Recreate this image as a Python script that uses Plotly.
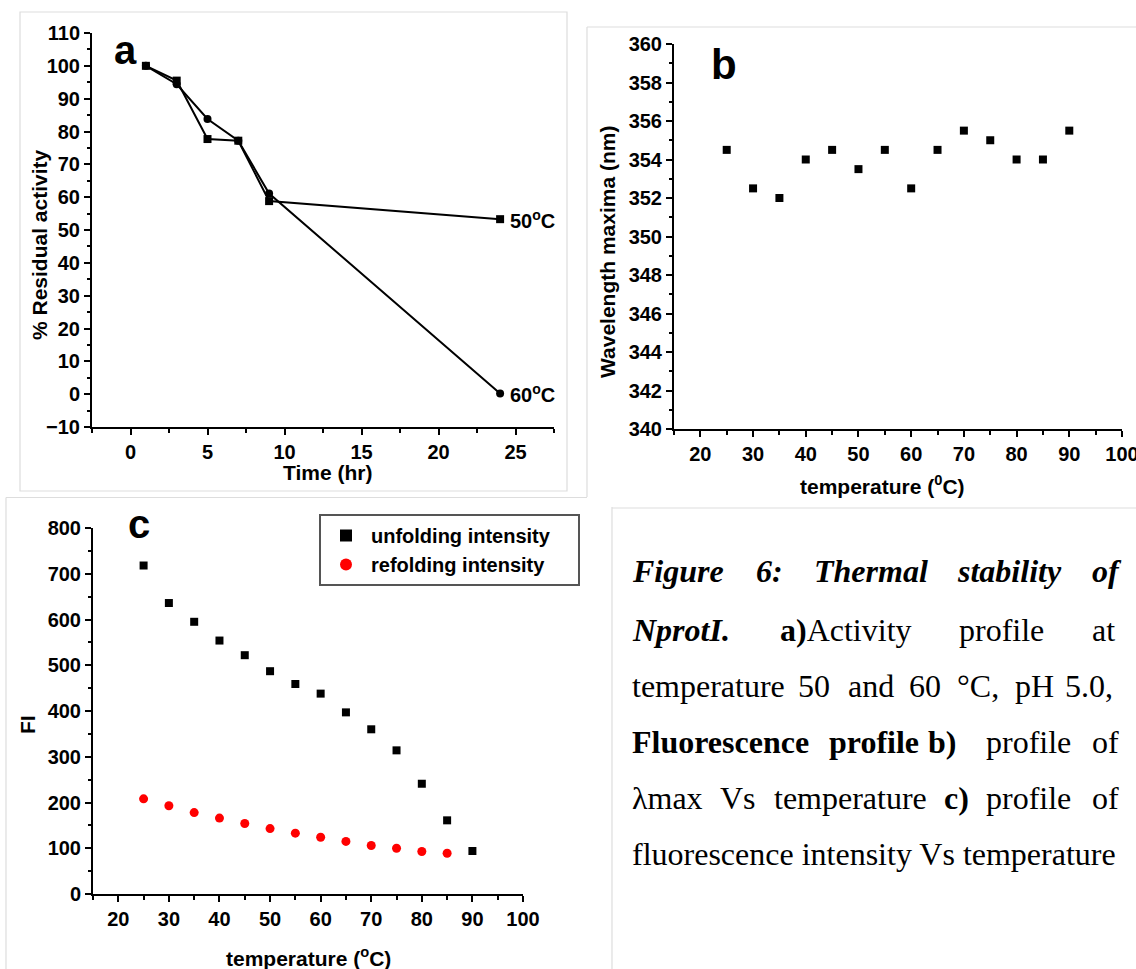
import plotly.graph_objects as go

W, H = 1136, 969

# ---------------- data ----------------
# panel a: residual activity vs time
time_hr = [1, 3, 5, 7, 9, 24]
act_50 = [100, 95.5, 77.7, 77.2, 58.8, 53.3]
act_60 = [100, 94.4, 83.8, 77.2, 61.1, 0.2]

# panel b: wavelength maxima vs temperature
temp_b = [25, 30, 35, 40, 45, 50, 55, 60, 65, 70, 75, 80, 85, 90]
wl_max = [354.5, 352.5, 352.0, 354.0, 354.5, 353.5, 354.5, 352.5, 354.5, 355.5, 355.0, 354.0, 354.0, 355.5]

# panel c: fluorescence intensity vs temperature
temp_unf = [25, 30, 35, 40, 45, 50, 55, 60, 65, 70, 75, 80, 85, 90]
fi_unf = [718, 636, 595, 554, 522, 487, 459, 438, 397, 360, 314, 241, 161, 94]
temp_ref = [25, 30, 35, 40, 45, 50, 55, 60, 65, 70, 75, 80, 85]
fi_ref = [208, 193, 178, 166, 154, 143, 133, 124, 115, 106, 100, 93, 89]

SANS = "Liberation Sans, Arial, sans-serif"
SERIF = "Liberation Serif, Times New Roman, serif"


def px(x):
    return x / W


def py(y):
    return 1 - y / H


fig = go.Figure()

fig.add_trace(go.Scatter(x=time_hr, y=act_50, mode="lines+markers", xaxis="x", yaxis="y",
                         line=dict(color="black", width=2),
                         marker=dict(symbol="square", size=8, color="black"), showlegend=False))
fig.add_trace(go.Scatter(x=time_hr, y=act_60, mode="lines+markers", xaxis="x", yaxis="y",
                         line=dict(color="black", width=2),
                         marker=dict(symbol="circle", size=8, color="black"), showlegend=False))

fig.add_trace(go.Scatter(x=temp_b, y=wl_max, mode="markers", xaxis="x2", yaxis="y2",
                         marker=dict(symbol="square", size=8, color="black"), showlegend=False))

NB = "\u00a0"
fig.add_trace(go.Scatter(x=temp_unf, y=fi_unf, mode="markers", xaxis="x3", yaxis="y3",
                         name="unfolding intensity" + NB * 4,
                         marker=dict(symbol="square", size=8, color="black")))
fig.add_trace(go.Scatter(x=temp_ref, y=fi_ref, mode="markers", xaxis="x3", yaxis="y3",
                         name="refolding intensity",
                         marker=dict(symbol="circle", size=9, color="#ff0000")))

tickfont = dict(family=SANS, size=20, color="black", weight="bold")


def axis(domain, rng, dtick, minor, anchor):
    return dict(domain=domain, range=rng, dtick=dtick, tick0=0, anchor=anchor,
                showline=True, linecolor="black", linewidth=2, showgrid=False, zeroline=False,
                ticks="outside", ticklen=6, tickwidth=2, tickcolor="black",
                minor=dict(dtick=minor, ticks="outside", ticklen=3.5, tickwidth=1.5, tickcolor="black"),
                tickfont=tickfont, fixedrange=True, automargin=False,
                ticklabeloverflow="allow")


layout = dict(
    template="none",
    width=W, height=H, margin=dict(l=0, r=0, t=0, b=0, autoexpand=False),
    paper_bgcolor="white", plot_bgcolor="white",
    xaxis=axis([px(92), px(554)], [-2.5, 27.5], 5, 2.5, "y"),
    yaxis=axis([py(427), py(33)], [-10, 110], 10, 5, "x"),
    xaxis2=axis([px(674), px(1122)], [15, 100], 10, 5, "y2"),
    yaxis2=axis([py(429), py(44)], [340, 360], 2, 1, "x2"),
    xaxis3=axis([px(93), px(523)], [15, 100], 10, 5, "y3"),
    yaxis3=axis([py(894), py(528)], [0, 800], 100, 50, "x3"),
    legend=dict(x=px(319), y=py(514), xanchor="left", yanchor="top",
                bordercolor="#555555", borderwidth=2, bgcolor="white",
                font=dict(family=SANS, size=20, color="black", weight="bold"),
                itemsizing="constant", itemwidth=40),
)
fig.update_layout(**layout)

ann = []


def text(x, y, t, size=21, angle=0, xanchor="center", yanchor="middle", family=SANS, xref="paper", yref="paper", xshift=0):
    ann.append(dict(x=x, y=y, xref=xref, yref=yref, text=t, showarrow=False, textangle=angle,
                    xanchor=xanchor, yanchor=yanchor, xshift=xshift,
                    font=dict(family=family, size=size, color="black")))


# axis titles
text(px(39), py(245), "<b>% Residual activity</b>", angle=-90)
text(px(327), py(473), "<b>Time (hr)</b>")
text(px(607), py(252), "<b>Wavelength maxima (nm)</b>", angle=-90)
text(px(882), py(485), "<b>temperature (<sup>0</sup>C)</b>")
text(px(27), py(725), "<b>FI</b>", angle=-90)
text(px(308), py(957), "<b>temperature (<sup>o</sup>C)</b>")

# panel letters
text(px(125), py(50), "<b>a</b>", size=40)
text(px(724), py(64), "<b>b</b>", size=42)
text(px(139), py(524), "<b>c</b>", size=40)

# series labels in panel a
text(24, 53.3, "<b>50<sup>o</sup>C</b>", size=20, xanchor="left", xref="x", yref="y", xshift=8)
text(24, 0.2, "<b>60<sup>o</sup>C</b>", size=20, xanchor="left", xref="x", yref="y", xshift=8)

# caption (justified: word start positions)
caption = [
    (583, [("<b><i>Figure</i></b>", 632), ("<b><i>6:</i></b>", 756), ("<b><i>Thermal</i></b>", 814),
           ("<b><i>stability</i></b>", 957), ("<b><i>of</i></b>", 1092)]),
    (642, [("<b><i>NprotI.</i></b>", 632), ("<b>a)</b>Activity", 780), ("profile", 959), ("at", 1092)]),
    (698, [("temperature", 632), ("50", 798), ("and", 848), ("60", 909), ("°C,", 957),
           ("pH", 1015), ("5.0,", 1065)]),
    (754, [("<b>Fluorescence</b>", 632), ("<b>profile</b>", 829), ("<b>b)</b>", 928),
           ("profile", 986), ("of", 1092)]),
    (810, [("λmax", 632), ("Vs", 720), ("temperature", 774), ("<b>c)</b>", 944),
           ("profile", 986), ("of", 1092)]),
    (866, [("fluorescence intensity Vs temperature", 632)]),
]
for base, words in caption:
    for w, x0 in words:
        text(px(x0 - 2), py(base - 12), w, size=32, xanchor="left", family=SERIF)

fig.update_layout(annotations=ann)

# light gray frames around panels
fc = "#dddddd"
shapes = [
    dict(type="rect", x0=px(20), x1=px(567), y0=py(12), y1=py(491)),
    dict(type="line", x0=px(587), x1=px(587), y0=py(27), y1=py(497)),
    dict(type="line", x0=px(587), x1=1, y0=py(27), y1=py(27)),
    dict(type="line", x0=px(6), x1=px(587), y0=py(497.5), y1=py(497.5)),
    dict(type="line", x0=px(6), x1=px(6), y0=py(497.5), y1=0),
    dict(type="line", x0=px(612), x1=1, y0=py(508), y1=py(508)),
    dict(type="line", x0=px(612), x1=px(612), y0=py(507), y1=0),
]
for s in shapes:
    s.update(xref="paper", yref="paper", line=dict(color=fc, width=1.2), layer="below")
fig.update_layout(shapes=shapes)

fig.write_html("out.html")
